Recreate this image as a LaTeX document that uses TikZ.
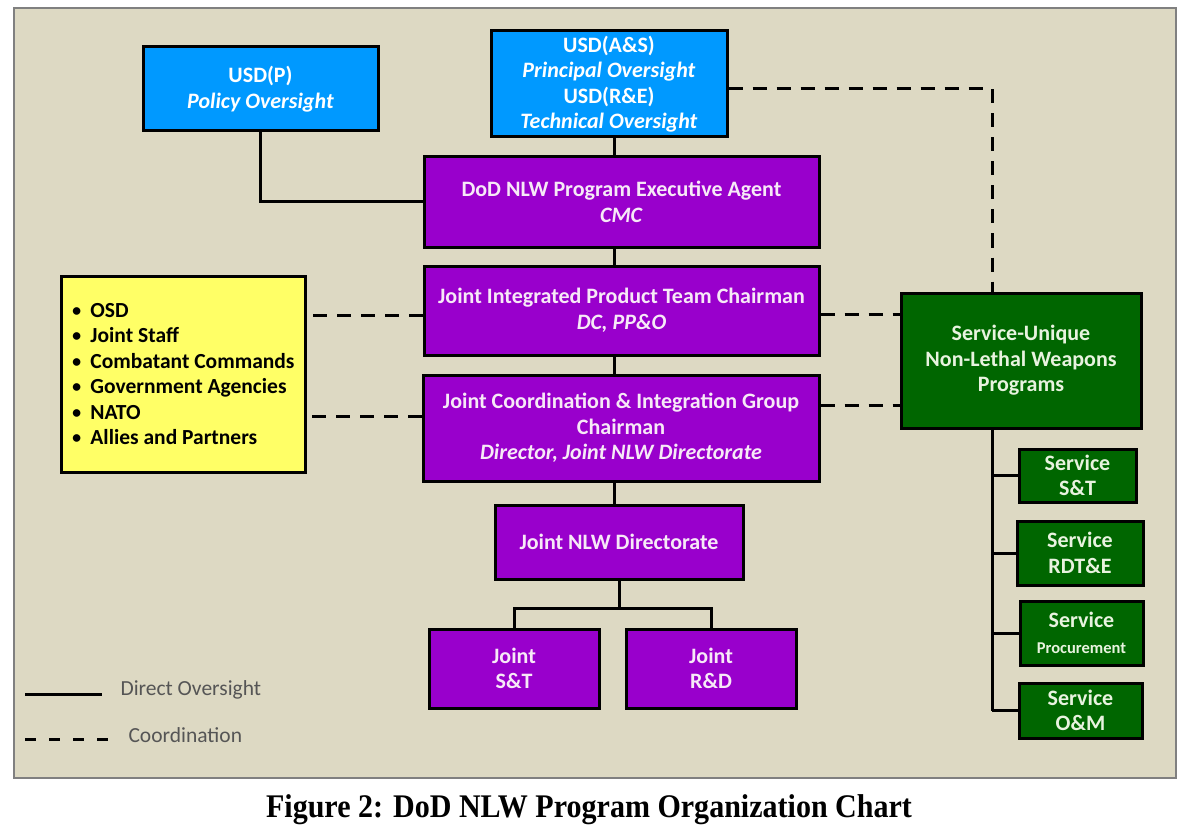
\documentclass[tikz,border=0pt]{standalone}
\usepackage{fontspec}
\setmainfont{Carlito}
\newfontfamily\captionfont{Liberation Serif}

\definecolor{panelbg}{HTML}{DDD9C3}
\definecolor{usdblue}{HTML}{0099FF}
\definecolor{nlwpurple}{HTML}{9900CC}
\definecolor{partneryellow}{HTML}{FFFF66}
\definecolor{servicegreen}{HTML}{006600}
\definecolor{purpletext}{HTML}{F7E9F7}
\definecolor{greentext}{HTML}{E8F3DF}
\definecolor{legendgray}{HTML}{555555}

\tikzset{
  orgbox/.style={draw=black, line width=3pt, align=center, inner sep=2pt,
    font=\bfseries\fontsize{22}{25.5}\selectfont},
  usd/.style={orgbox, fill=usdblue, text=white},
  joint/.style={orgbox, fill=nlwpurple, text=purpletext},
  partners/.style={orgbox, fill=partneryellow, text=black, align=left,
    font=\bfseries\fontsize{21.5}{25.5}\selectfont},
  service/.style={orgbox, fill=servicegreen, text=greentext},
  oversight/.style={line width=3pt},
  coordination/.style={line width=3pt, dash pattern=on 14pt off 10pt},
  legendtext/.style={anchor=west, text=legendgray, font=\fontsize{21.5}{25}\selectfont}
}

\begin{document}
\begin{tikzpicture}[x=1pt,y=-1pt]
  \useasboundingbox (0,0) rectangle (1190,834);
  \draw[fill=panelbg, draw=gray, line width=2pt] (14,8) rectangle (1176,778);

  % oversight chain
  \draw
    (260.5,89) node[usd, minimum width=235pt, minimum height=84pt] (usdp)
      {USD(P)\\\textit{Policy Oversight}}
    (609,84) node[usd, minimum width=236pt, minimum height=106pt] (usdas)
      {USD(A\&S)\\\textit{Principal Oversight}\\USD(R\&E)\\\textit{Technical Oversight}}
    (621.5,202) node[joint, minimum width=395pt, minimum height=90pt] (pea)
      {DoD NLW Program Executive Agent\\\textit{CMC}}
    (621.5,310.5) node[joint, minimum width=395pt, minimum height=89pt] (jipt)
      {Joint Integrated Product Team Chairman\\\textit{DC, PP\&O}}
    (621,428) node[joint, minimum width=396pt, minimum height=106pt] (jcig)
      {Joint Coordination \& Integration Group\\Chairman\\\textit{Director, Joint NLW Directorate}}
    (619,542) node[joint, minimum width=248pt, minimum height=74pt] (jnlwd)
      {Joint NLW Directorate}
    (514,668.5) node[joint, minimum width=170pt, minimum height=79pt] (jst)
      {Joint\\S\&T}
    (711,668.5) node[joint, minimum width=170pt, minimum height=79pt] (jrd)
      {Joint\\R\&D};

  % partners and services
  \draw
    (183,374) node[partners, minimum width=244pt, minimum height=196pt] (ext)
      {\makebox[19pt][l]{\textmd{\textbullet}}OSD\\
       \makebox[19pt][l]{\textmd{\textbullet}}Joint Staff\\
       \makebox[19pt][l]{\textmd{\textbullet}}Combatant Commands\\
       \makebox[19pt][l]{\textmd{\textbullet}}Government Agencies\\
       \makebox[19pt][l]{\textmd{\textbullet}}NATO\\
       \makebox[19pt][l]{\textmd{\textbullet}}Allies and Partners}
    (1021,360.5) node[service, minimum width=240pt, minimum height=135pt] (sunlwp)
      {Service-Unique\\Non-Lethal Weapons\\Programs}
    (1077.5,475.5) node[service, minimum width=117pt, minimum height=53pt] (sst)
      {Service\\S\&T}
    (1080,553) node[service, minimum width=126pt, minimum height=64pt] (srdte)
      {Service\\RDT\&E}
    (1081.5,633) node[service, minimum width=123pt, minimum height=64pt] (sproc)
      {Service\\{\fontsize{16.5}{18}\selectfont Procurement}}
    (1080.5,710.5) node[service, minimum width=123pt, minimum height=55pt] (som)
      {Service\\O\&M};

  \coordinate (stem) at (614,0);
  \coordinate (fork) at (619,608);
  \coordinate (spine) at (992,0);

  \begin{scope}[oversight]
    \draw (usdp.south) |- (pea.west);
    \draw (stem |- usdas.south) -- (stem |- pea.north);
    \draw (stem |- pea.south) -- (stem |- jipt.north);
    \draw (stem |- jipt.south) -- (stem |- jcig.north);
    \draw (stem |- jcig.south) -- (stem |- jnlwd.north);
    \draw (jnlwd.south) -- (fork);
    \draw (jst.north) |- (fork) -| (jrd.north);
    \draw (spine |- sunlwp.south) -- (spine |- som.west);
    \foreach \s in {sst,srdte,sproc,som}
      \draw (spine |- \s.west) -- (\s.west);
  \end{scope}

  \begin{scope}[coordination]
    \draw ([yshift=-5pt]usdas.east) -| (spine |- sunlwp.north);
    \draw ([yshift=-4.5pt]jipt.west) -- ([yshift=-4.5pt]jipt.west -| ext.east);
    \draw ([yshift=12pt]jcig.west) -- ([yshift=12pt]jcig.west -| ext.east);
    \draw ([yshift=-3.5pt]jipt.east) -- ([yshift=-3.5pt]jipt.east -| sunlwp.west);
    \draw ([yshift=23pt]jcig.east) -- ([yshift=23pt]jcig.east -| sunlwp.west);
  \end{scope}

  % legend
  \coordinate (ovA) at (25,694);
  \coordinate (ovB) at (102,694);
  \coordinate (coA) at (25,739);
  \coordinate (coB) at (110,739);
  \draw[oversight] (ovA) -- (ovB);
  \draw[line width=3pt, dash pattern=on 11pt off 13pt] (coA) -- (coB);
  \node[legendtext] (ovlabel) at (117,690) {Direct Oversight};
  \node[legendtext] (colabel) at (125,735) {Coordination};

  \node[font=\captionfont\bfseries\fontsize{33}{36}\selectfont] (caption) at (589,810)
    {\scalebox{0.91}[1]{Figure 2: DoD NLW Program Organization Chart}};
\end{tikzpicture}
\end{document}
